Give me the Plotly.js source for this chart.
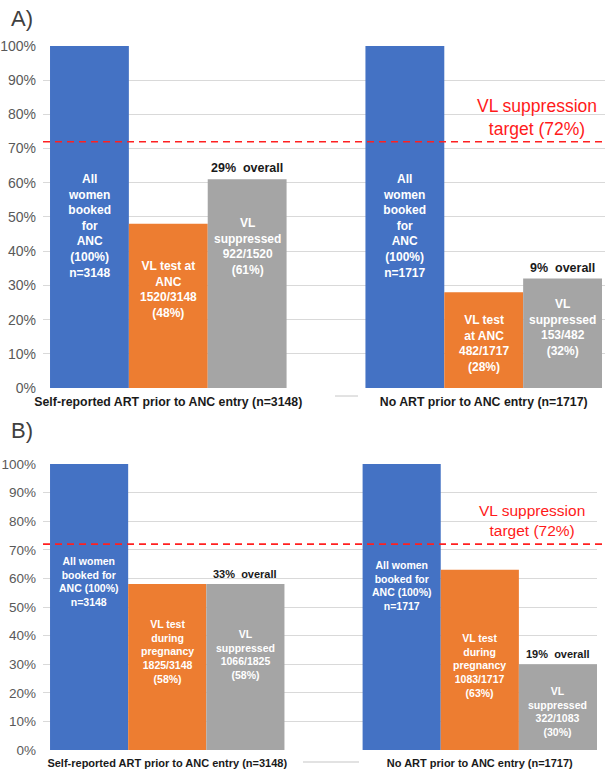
<!DOCTYPE html>
<html>
<head>
<meta charset="utf-8">
<script src="https://cdn.plot.ly/plotly-3.0.1.min.js"></script>
<style>
  html, body { margin: 0; padding: 0; background: #fff; }
  #chart { width: 605px; height: 770px; }
</style>
</head>
<body>
<div id="chart"></div>
<script>
// Cohort groups (x-axis categories, same for both panels)
const groups = ['Self-reported ART prior to ANC entry (n=3148)', 'No ART prior to ANC entry (n=1717)'];

// Panel A: VL test at ANC entry (percent of previous step)
const aBooked = [100, 100];
const aTested = [48, 28];
const aSuppressed = [61, 32];
const aOverall = [29, 9];
const aBookedText = ['All<br>women<br>booked<br>for<br>ANC<br>(100%)<br>n=3148', 'All<br>women<br>booked<br>for<br>ANC<br>(100%)<br>n=1717'];
const aTestedText = ['VL test at<br>ANC<br>1520/3148<br>(48%)', 'VL test<br>at ANC<br>482/1717<br>(28%)'];
const aSuppText = ['VL<br>suppressed<br>922/1520<br>(61%)', 'VL<br>suppressed<br>153/482<br>(32%)'];

// Panel B: VL test during pregnancy
const bBooked = [100, 100];
const bTested = [58, 63];
const bSuppressed = [58, 30];
const bOverall = [33, 19];
const bBookedText = ['All women<br>booked for<br>ANC (100%)<br>n=3148', 'All women<br>booked for<br>ANC (100%)<br>n=1717'];
const bTestedText = ['VL test<br>during<br>pregnancy<br>1825/3148<br>(58%)', 'VL test<br>during<br>pregnancy<br>1083/1717<br>(63%)'];
const bSuppText = ['VL<br>suppressed<br>1066/1825<br>(58%)', 'VL<br>suppressed<br>322/1083<br>(30%)'];

// Suppression target and its label
const target = 72;
const targetText = 'VL suppression<br>target (72%)';
const yTicks = [0, 10, 20, 30, 40, 50, 60, 70, 80, 90, 100];
const yTickText = yTicks.map(v => v + '%');

// Colours
const cBlue = '#4472C4', cOrange = '#ED7D31', cGray = '#A5A5A5';

// Vertical centre (in % units) of the white text inside each bar
const aTextY = { booked: [47.4, 47.5], tested: [28.7, 13.0], supp: [41.5, 17.7] };
const bTextY = { booked: [58.9, 57.5], tested: [34.3, 29.4], supp: [33.4, 13.3] };

// bar positions: three adjacent bars per group, one empty slot between groups
const xPos = (step) => groups.map((_, g) => g * 4 + step);

function panelTraces(booked, tested, supp, xa, ya) {
  return [booked, tested, supp].map((vals, i) => ({
    type: 'bar',
    x: xPos(i),
    y: vals,
    width: 1,
    marker: { color: [cBlue, cOrange, cGray][i], line: { width: 0 } },
    xaxis: xa, yaxis: ya,
    hoverinfo: 'skip',
    showlegend: false
  }));
}

const traces = [
  ...panelTraces(aBooked, aTested, aSuppressed, 'x', 'y'),
  ...panelTraces(bBooked, bTested, bSuppressed, 'x2', 'y2')
];

const FONT = 'Liberation Sans, Arial, sans-serif';
const annotations = [];

// white text blocks inside the bars
function barLabels(texts, ys, step, xr, yr, size) {
  texts.forEach((t, g) => annotations.push({
    x: g * 4 + step, y: ys[g], xref: xr, yref: yr,
    text: t, showarrow: false, xanchor: 'center', yanchor: 'middle',
    font: { family: FONT, size: size, color: '#ffffff', weight: 'bold' }
  }));
}
barLabels(aBookedText, aTextY.booked, 0, 'x', 'y', 12);
barLabels(aTestedText, aTextY.tested, 1, 'x', 'y', 12);
barLabels(aSuppText, aTextY.supp, 2, 'x', 'y', 12);
barLabels(bBookedText, bTextY.booked, 0, 'x2', 'y2', 10.5);
barLabels(bTestedText, bTextY.tested, 1, 'x2', 'y2', 10.5);
barLabels(bSuppText, bTextY.supp, 2, 'x2', 'y2', 10.5);

// "overall" labels above the suppressed bars
function overallLabels(overall, supp, xr, yr, size) {
  overall.forEach((v, g) => annotations.push({
    x: g * 4 + 2, y: supp[g], xref: xr, yref: yr,
    text: v + '%  overall', showarrow: false, xanchor: 'center', yanchor: 'bottom', yshift: 2,
    font: { family: FONT, size: size, color: '#1a1a1a', weight: 'bold' }
  }));
}
overallLabels(aOverall, aSuppressed, 'x', 'y', 12.5);
overallLabels(bOverall, bSuppressed, 'x2', 'y2', 11);

// target labels
annotations.push({
  x: 5.67, y: 79.1, xref: 'x', yref: 'y', text: targetText, showarrow: false,
  xanchor: 'center', yanchor: 'middle',
  font: { family: FONT, size: 17.5, color: '#ff1a1a' }
});
annotations.push({
  x: 5.67, y: 80.2, xref: 'x2', yref: 'y2', text: targetText, showarrow: false,
  xanchor: 'center', yanchor: 'middle',
  font: { family: FONT, size: 15.5, color: '#ff1a1a' }
});

// panel letters
const panelLetter = (txt, ypx) => ({
  x: 10 / 605 - 43 / 562, y: 1 - ypx / 770, xref: 'paper', yref: 'paper', text: txt,
  showarrow: false, xanchor: 'left', yanchor: 'middle',
  font: { family: FONT, size: 22, color: '#404040' }
});
annotations.push(panelLetter('A)', 18));
annotations.push(panelLetter('B)', 430));

const shapes = [
  { type: 'line', xref: 'paper', yref: 'y', x0: 0, x1: 1, y0: target, y1: target,
    line: { color: '#ff2020', width: 1.6, dash: '7px,5px' } },
  { type: 'line', xref: 'paper', yref: 'y2', x0: 0, x1: 1, y0: target, y1: target,
    line: { color: '#ff2020', width: 1.6, dash: '7px,5px' } },
  { type: 'line', xref: 'paper', yref: 'paper', x0: 0.5196, x1: 0.5605, y0: 0.4857, y1: 0.4857,
    line: { color: '#d9d9d9', width: 1.5 } },
  { type: 'line', xref: 'paper', yref: 'paper', x0: 0.4626, x1: 0.5623, y0: 0.0104, y1: 0.0104,
    line: { color: '#d9d9d9', width: 1.5 } }
];

const yAxisBase = (size) => ({
  range: [0, 100], tickmode: 'array', tickvals: yTicks, ticktext: yTickText, showgrid: true,
  gridcolor: '#d9d9d9', gridwidth: 1, zeroline: false, showline: false, ticks: '',
  ticklabelstandoff: 6, fixedrange: true,
  tickfont: { family: FONT, size: size, color: '#595959' }
});
const xAxisBase = (range, domain, size) => ({
  range: range, domain: domain, tickmode: 'array', tickvals: [1, 5], ticktext: groups,
  showgrid: false, zeroline: false, showline: false, ticks: '', fixedrange: true,
  ticklabelstandoff: 5,
  tickfont: { family: FONT, size: size, color: '#1a1a1a', weight: 'bold' }
});

const layout = {
  width: 605, height: 770,
  margin: { l: 43, r: 0, t: 0, b: 0 },
  paper_bgcolor: '#ffffff', plot_bgcolor: '#ffffff',
  barmode: 'overlay',
  showlegend: false,
  xaxis: xAxisBase([-0.589, 6.538], [0, 1], 12.3),
  yaxis: Object.assign(yAxisBase(14), { domain: [0.4961, 0.9403] }),
  xaxis2: Object.assign(xAxisBase([-0.59, 6.5], [0, 0.9858], 11), { anchor: 'y2' }),
  yaxis2: Object.assign(yAxisBase(13.5), { domain: [0.02597, 0.3974], anchor: 'x2' }),
  annotations: annotations,
  shapes: shapes
};

Plotly.newPlot('chart', traces, layout, { displayModeBar: false, staticPlot: true });
</script>
</body>
</html>
